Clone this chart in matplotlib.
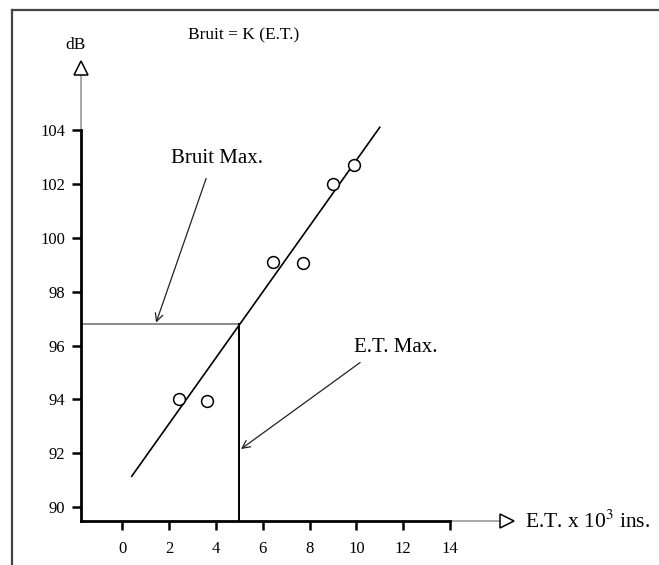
import matplotlib
matplotlib.use("Agg")
import matplotlib.pyplot as plt
from matplotlib.lines import Line2D

plt.rcParams['font.family'] = ['Liberation Serif', 'DejaVu Serif']
plt.rcParams['mathtext.fontset'] = 'stix'

# measured points (E.T. x 10^3 ins., dB)
et = [2.4, 3.6, 6.45, 7.7, 9.0, 9.9]
db = [94.0, 93.95, 99.1, 99.05, 102.0, 102.7]

# fitted line end points
fit_x = [0.4, 11.0]
fit_y = [91.15, 104.1]

# maximum values
et_max = 5.0
bruit_max = 96.8

x_ticks = [0, 2, 4, 6, 8, 10, 12, 14]
y_ticks = [90, 92, 94, 96, 98, 100, 102, 104]

fig = plt.figure(figsize=(6.59, 5.65), dpi=100)
ax = fig.add_axes([0.1225, 0.0784, 0.6313, 0.7869])
ax.set_xlim(-1.78, 16.0)
ax.set_ylim(89.5, 106.0)

for s in ['top', 'right']:
    ax.spines[s].set_visible(False)
ax.spines['left'].set_linewidth(2.0)
ax.spines['bottom'].set_linewidth(2.0)
ax.spines['left'].set_bounds(89.5, 104)
ax.spines['bottom'].set_bounds(-1.78, 14)

ax.set_xticks(x_ticks)
ax.set_yticks(y_ticks)
ax.tick_params(axis='both', direction='out', length=6.5, width=1.8, labelsize=12)
ax.tick_params(axis='x', pad=8)
ax.tick_params(axis='y', pad=4.5)

# grey axis extensions with open arrow heads
ax.plot([-1.78, -1.78], [104, 106.1], color='#999999', lw=1.2, clip_on=False)
ax.plot([-1.78], [106.3], marker='^', ms=10, mfc='white', mec='black', mew=1.1, clip_on=False)
ax.plot([14, 16.2], [89.5, 89.5], color='#999999', lw=1.2, clip_on=False)
ax.plot([16.42], [89.5], marker='>', ms=10, mfc='white', mec='black', mew=1.1, clip_on=False)

# fit line and points
ax.plot(fit_x, fit_y, color='black', lw=1.2, clip_on=False)
ax.plot(et, db, 'o', ms=8.5, mfc='white', mec='black', mew=1.1, linestyle='none', clip_on=False)

# max lines
ax.plot([-1.78, et_max], [bruit_max, bruit_max], color='#777777', lw=1.2)
ax.plot([et_max, et_max], [89.5, bruit_max], color='black', lw=1.4)

# annotations
arrow = dict(arrowstyle='->', lw=0.9, color='#222222', shrinkA=0, shrinkB=0,
             mutation_scale=14)
ax.annotate('', xy=(1.44, 96.85), xytext=(3.58, 102.2), arrowprops=arrow)
ax.text(4.05, 102.96, 'Bruit Max.', fontsize=15, ha='center', va='center')
ax.annotate('', xy=(5.07, 92.16), xytext=(10.16, 95.37), arrowprops=arrow)
ax.text(11.69, 95.91, 'E.T. Max.', fontsize=15, ha='center', va='center')

ax.text(17.2, 89.45, 'E.T. x 10$^{3}$ ins.', fontsize=15.5, ha='left', va='center',
        clip_on=False)
fig.text(76 / 659, 1 - 45 / 565, 'dB', fontsize=12.5, ha='center', va='center')
fig.text(244 / 659, 1 - 35 / 565, 'Bruit = K (E.T.)', fontsize=12.5, ha='center', va='center')

# page frame (left and top edges)
fig.add_artist(Line2D([11.7 / 659, 11.7 / 659], [0, 1 - 10 / 565], color='#444444', lw=1.6))
fig.add_artist(Line2D([11.7 / 659, 1], [1 - 10 / 565, 1 - 10 / 565], color='#444444', lw=1.6))

fig.savefig('out.png', dpi=100)
